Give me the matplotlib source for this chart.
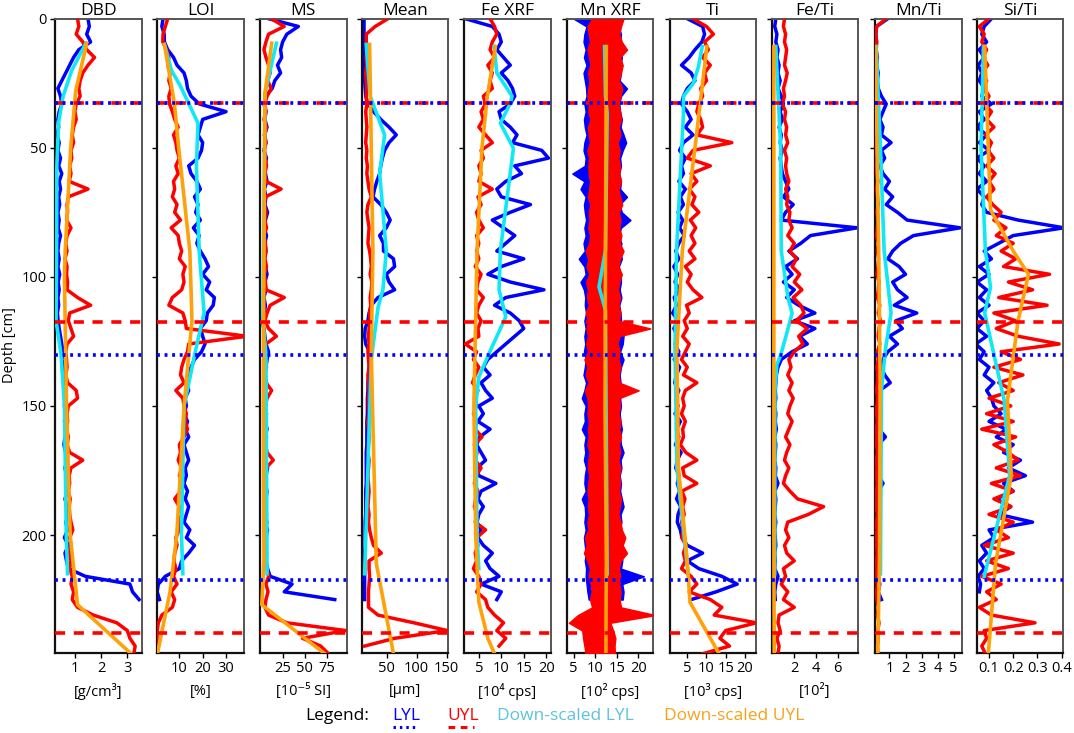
import numpy as np
import matplotlib
matplotlib.use('Agg')
import matplotlib.pyplot as plt
from matplotlib.lines import Line2D

plt.rcParams['font.family'] = ['Open Sans', 'DejaVu Sans']

# depth sampling of the two cores [cm]
d_lyl = np.arange(0, 226, 3)
d_uyl = np.arange(0, 247, 3)
nan = np.nan

# ---------------- DBD [g/cm3]
dbd_lyl = [1.50, 1.55, 1.45, 1.60, 1.15, 0.95, 0.80, 0.65, 0.50, 0.35,
           0.45, 0.50, 0.40, 0.35, 0.38, 0.32, 0.40, 0.35, 0.45, 0.38,
           0.50, 0.40, 0.45, 0.38, 0.42, 0.35, 0.40, 0.36, 0.45, 0.38,
           0.35, 0.40, 0.35, 0.42, 0.36, 0.40, 0.35, 0.38, 0.33, 0.36,
           0.40, 0.45, 0.50, 0.55, 0.50, 0.58, 0.55, 0.60, 0.58, 0.62,
           0.60, 0.65, 0.60, 0.70, 0.62, 0.58, 0.65, 0.70, 0.62, 0.68,
           0.65, 0.72, 0.62, 0.70, 0.78, 0.65, 0.72, 0.60, 0.75, 0.62,
           0.68, 0.75, 1.40, 3.10, 3.20, 3.45]
dbd_uyl = [1.10, 1.15, 1.05, 1.30, 1.45, 1.75, 1.50, 1.30, 1.20, 1.15,
           1.20, 1.05, 1.00, 1.05, 0.95, 0.90, 0.95, 0.85, 0.88, 0.80,
           0.85, 0.78, 1.50, 0.75, 0.70, 0.72, 0.68, 0.85, 0.70, 0.65,
           0.70, 0.62, 0.70, 0.68, 0.72, 0.70, 1.10, 1.60, 0.80, 0.75,
           0.85, 0.95, 0.70, 0.65, 0.68, 0.70, 0.65, 0.72, 1.05, 1.10,
           0.75, 0.70, 0.72, 0.68, 0.75, 0.70, 0.80, 1.30, 0.85, 0.78,
           0.80, 0.75, 0.82, 0.78, 0.80, 0.85, 0.92, 0.80, 0.85, 0.78,
           0.85, 0.80, 0.90, 0.85, 0.95, 0.90, 1.10, 1.70, 2.60, 3.00,
           3.10, 3.30, 3.25]

# ---------------- LOI [%]
loi_lyl = [3.0, 2.5, 3.5, 3.6, 5.0, 7.5, 9.0, 12.0, 13.0, 13.5,
           15.0, 18.5, 30.0, 20.0, 19.0, 18.0, 20.0, 19.5, 18.0, 14.0,
           15.0, 17.5, 19.0, 16.5, 18.0, 17.0, 19.0, 16.0, 18.5, 17.5,
           19.0, 21.0, 22.5, 20.0, 23.0, 21.5, 25.0, 24.5, 22.0, 21.5,
           19.0, 20.0, 21.0, 19.5, 16.5, 15.0, 13.5, 13.0, 14.0, 12.5,
           13.0, 12.0, 13.5, 12.5, 14.0, 12.0, 13.0, 14.0, 12.5, 13.0,
           12.0, 13.5, 12.5, 14.0, 13.0, 12.0, 14.5, 13.0, 16.5, 14.0,
           11.0, 10.0, 4.0, 1.0, 0.5, 1.5]
loi_uyl = [5.0, 4.0, 3.0, 2.9, 4.5, 5.5, 5.0, 6.0, 5.5, 6.5,
           5.5, 5.8, 7.0, 8.0, 9.5, 7.5, 8.5, 9.0, 10.0, 8.5,
           9.5, 7.5, 8.0, 7.0, 9.0, 8.0, 10.5, 6.5, 9.5, 10.0,
           11.0, 10.0, 12.5, 11.5, 12.0, 11.0, 7.0, 5.5, 11.5, 12.5,
           13.0, 39.0, 14.0, 13.5, 12.0, 11.0, 10.5, 12.0, 8.5, 11.5,
           12.0, 13.0, 12.5, 13.5, 12.0, 10.0, 10.5, 9.5, 11.0, 10.0,
           11.5, 10.5, 8.0, 10.0, 11.0, 9.5, 10.0, 8.5, 9.0, 8.0,
           7.7, 8.5, 7.5, 9.0, 6.5, 8.0, 7.0, 2.5, 1.0, 0.5,
           0.4, 0.3, 0.3]

# ---------------- MS [10-5 SI]
ms_lyl = [9.3, 42.7, 29.8, 25.1, 22.8, 24.0, 19.3, 22.8, 16.3, 13.4,
          6.4, 4.1, 6.4, 5.2, 7.6, 4.6, 6.4, 4.1, 7.0, 5.2,
          5.8, 7.6, 4.6, 6.4, 5.2, 8.2, 5.8, 4.6, 7.0, 5.2,
          6.4, 4.6, 5.8, 7.6, 5.2, 6.4, 4.1, 5.8, 4.6, 1.7,
          4.1, 5.2, 6.4, 9.3, 7.6, 6.4, 5.2, 7.0, 5.8, 6.4,
          5.2, 7.0, 5.8, 7.6, 5.2, 6.4, 7.0, 5.8, 8.2, 6.4,
          5.2, 7.6, 6.4, 5.8, 7.0, 5.2, 8.2, 6.4, 5.8, 7.0,
          6.4, 8.2, 11.1, 35.7, 26.9, 83.6]
ms_uyl = [12.3, 26.9, 9.3, 6.4, 4.1, 6.4, 9.3, 11.1, 8.2, 12.3,
          7.6, 5.2, 6.4, 4.1, 7.0, 5.2, 6.4, 4.6, 5.8, 7.0,
          5.2, 6.4, 23.4, 5.8, 4.6, 6.4, 5.2, 7.0, 4.1, 5.8,
          6.4, 5.2, 7.0, 4.6, 5.8, 6.4, 26.9, 11.1, 7.6, 5.2,
          9.3, 18.1, 6.4, 5.2, 5.8, 7.0, 4.6, 6.4, 12.8, 7.6,
          5.8, 4.6, 6.4, 5.2, 7.0, 5.8, 7.6, 14.6, 6.4, 5.2,
          5.8, 7.0, 4.6, 6.4, 5.2, 7.6, 5.8, 7.0, 5.2, 6.4,
          5.8, 7.6, 9.3, 6.4, 8.7, 6.4, 5.2, 9.3, 29.8, 96.0,
          47.4, 67.8, 76.6]

# ---------------- Mean grain size [um]
mean_lyl = [12.2, 12.2, 12.2, 13.2, 13.2, 13.2, 12.2, 13.2, 13.2, 14.1,
            15.0, 18.7, 28.0, 40.0, 53.9, 65.9, 53.9, 46.5, 42.8, 40.0,
            38.2, 33.5, 29.8, 27.0, 40.0, 49.3, 55.8, 49.3, 38.2, 44.6,
            44.6, 61.3, 63.2, 49.3, 53.9, 63.2, 35.4, 24.3, 20.6, 18.7,
            14.1, 13.2, 15.0, 21.5, 22.4, 20.6, 19.6, 18.7, 18.7, 17.8,
            17.8, 17.8, 16.9, 16.9, 16.9, 16.9, 15.9, 15.9, 15.9, 15.9,
            15.9, 15.0, 15.0, 15.0, 15.0, 14.1, 14.1, 14.1, 14.1, 13.2,
            13.2, 13.2, 13.2, 13.2, 13.2, 13.2]
mean_uyl = [52.0, 30.8, 15.9, 15.9, 16.9, 15.9, 16.9, 15.0, 15.9, 16.9,
            15.9, 16.9, 15.0, 15.9, 16.9, 15.9, 15.0, 16.9, 15.9, 17.8,
            16.9, 18.7, 20.6, 24.3, 18.7, 16.9, 18.7, 20.6, 19.6, 18.7,
            21.5, 23.3, 24.3, 22.4, 25.2, 24.3, 22.4, 23.3, 21.5, 22.4,
            20.6, 19.6, 20.6, 18.7, 19.6, 20.6, 18.7, 19.6, 20.6, 19.6,
            19.6, 20.6, 18.7, 19.6, 20.6, 19.6, 18.7, 20.6, 19.6, 18.7,
            19.6, 20.6, 19.6, 18.7, 20.6, 19.6, 21.5, 24.3, 28.0, 41.0,
            20.6, 20.6, 21.5, 20.6, 19.6, 19.6, 19.6, 35.4, 95.6, 151.0,
            63.2, 13.2, nan]

# ---------------- Fe XRF [10^4 cps]
fe_lyl = [2.0, 8.0, 9.5, 10.0, 9.0, 10.5, 12.0, 10.0, 11.5, 12.5,
          13.0, 12.0, 9.5, 10.0, 12.0, 13.5, 12.5, 19.0, 20.5, 13.0,
          14.5, 11.0, 9.0, 10.0, 16.5, 12.0, 8.0, 10.5, 13.0, 11.0,
          9.0, 15.0, 10.0, 7.0, 12.0, 19.5, 11.0, 8.5, 12.0, 14.0,
          15.0, 13.0, 11.0, 9.0, 7.0, 6.0, 7.5, 5.5, 6.5, 8.0,
          5.0, 6.0, 4.8, 7.5, 5.2, 4.5, 5.5, 6.5, 4.6, 5.0,
          8.8, 5.5, 4.8, 6.0, 5.0, 4.6, 5.5, 4.8, 6.0, 8.0,
          6.5, 7.5, 9.5, 5.5, 10.0, 9.0]
fe_uyl = [7.5, 8.5, 9.0, 8.0, 7.5, 8.5, 7.0, 8.0, 7.5, 8.0,
          6.0, 6.5, 5.5, 6.0, 5.0, 6.5, 8.0, 5.5, 6.0, 5.0,
          5.5, 5.0, 8.0, 4.8, 5.5, 4.5, 5.0, 6.0, 4.5, 5.0,
          4.5, 5.0, 4.2, 5.5, 4.8, 4.5, 6.0, 5.0, 4.5, 5.5,
          4.8, 5.0, 2.0, 4.5, 3.8, 5.0, 4.2, 3.6, 4.8, 4.0,
          4.5, 3.8, 4.5, 4.2, 5.7, 4.0, 4.6, 4.2, 5.5, 4.4,
          4.0, 4.8, 4.3, 4.0, 4.6, 4.2, 6.5, 4.5, 4.8, 4.2,
          4.5, 3.8, 5.0, 5.5, 4.5, 6.5, 7.0, 8.5, 10.5, 9.0,
          11.0, 9.5, nan]

# ---------------- Mn XRF [10^2 cps], band of the scan (low / high)
mn_lyl_lo = [5.0, 8.0, 7.5, 7.3, 7.8, 7.4, 8.0, 7.3, 7.6, 7.9,
             8.0, 7.5, 7.8, 7.4, 7.6, 8.0, 7.5, 7.3, 7.8, 7.6,
             4.7, 7.5, 6.6, 7.8, 7.4, 7.6, 7.9, 7.5, 7.8, 7.3,
             7.6, 6.2, 7.5, 7.8, 6.6, 7.4, 7.7, 7.6, 7.9, 7.5,
             7.8, 7.5, 7.7, 7.4, 7.8, 7.6, 7.3, 7.9, 7.5, 6.9,
             7.8, 7.5, 7.6, 6.9, 7.8, 7.5, 7.7, 7.4, 7.9, 7.6,
             7.5, 7.8, 6.9, 7.6, 7.7, 7.5, 7.8, 7.4, 7.6, 7.8,
             7.6, 7.9, 7.8, 8.0, 8.2, 8.5]
mn_lyl_hi = [9.6, 15.5, 16.0, 15.8, 15.6, 16.2, 15.9, 16.0, 15.7, 17.4,
             16.0, 15.6, 15.8, 16.2, 15.9, 16.6, 17.2, 16.4, 15.8, 16.0,
             15.6, 16.0, 15.8, 17.4, 15.7, 16.2, 18.2, 16.0, 15.5, 16.1,
             15.8, 16.2, 15.5, 15.9, 16.0, 15.7, 16.1, 15.6, 15.9, 16.0,
             16.2, 16.6, 16.4, 15.8, 16.6, 16.0, 15.7, 15.9, 16.1, 15.8,
             16.0, 15.7, 15.9, 16.2, 15.8, 16.0, 16.6, 15.9, 16.1, 15.7,
             16.0, 15.8, 16.2, 16.6, 15.9, 16.1, 15.7, 16.0, 15.8, 16.2,
             16.3, 16.0, 21.3, 16.3, 16.6, 16.4]
mn_uyl_lo = [9.3, 8.2, 8.5, 8.8, 8.2, 8.6, 8.9, 8.3, 8.7, 8.4,
             8.2, 8.6, 8.4, 8.9, 8.3, 8.5, 8.8, 8.2, 8.6, 8.4,
             8.5, 8.8, 8.6, 8.3, 8.9, 8.5, 8.7, 8.4, 8.8, 8.6,
             7.8, 8.4, 8.0, 8.6, 7.9, 8.3, 8.1, 8.5, 7.8, 8.4,
             8.0, 8.3, 7.9, 8.4, 7.5, 8.2, 7.8, 8.5, 7.6, 8.2,
             8.4, 8.2, 8.6, 8.3, 8.5, 8.2, 8.7, 8.4, 8.3, 8.6,
             8.4, 8.2, 8.5, 8.3, 8.6, 8.2, 8.4, 7.6, 8.0, 7.4,
             8.2, 8.8, 8.5, 9.0, 9.2, 8.8, 9.3, 6.0, 3.9, 7.0,
             7.2, 7.5, 7.8]
mn_uyl_hi = [16.6, 16.0, 15.6, 16.2, 17.4, 15.8, 16.4, 16.0, 15.5, 16.3,
             15.9, 15.4, 15.8, 16.0, 15.5, 15.9, 15.2, 15.7, 15.4, 15.8,
             15.6, 16.0, 15.4, 15.8, 16.3, 15.5, 15.9, 15.6, 16.1, 15.7,
             16.6, 15.8, 15.4, 16.2, 15.6, 15.3, 15.8, 15.4, 15.9, 15.5,
             22.8, 15.6, 15.2, 15.7, 15.4, 15.9, 15.5, 15.7, 20.1, 15.6,
             15.8, 15.4, 15.9, 15.6, 16.0, 15.5, 15.8, 15.4, 15.9, 15.6,
             15.8, 15.5, 16.0, 15.7, 15.4, 15.9, 16.2, 17.0, 16.4, 17.4,
             15.9, 15.5, 15.8, 15.6, 15.9, 15.7, 16.0, 24.0, 13.5, 14.2,
             14.7, 14.5, 14.6]

# ---------------- Ti [10^3 cps]
ti_lyl = [5.0, 9.0, 9.5, 8.8, 7.0, 5.5, 3.5, 6.0, 7.0, 5.0,
          4.0, 3.5, 5.0, 6.0, 4.5, 6.5, 4.0, 3.0, 4.5, 3.5,
          4.0, 2.8, 4.5, 3.2, 4.0, 2.6, 3.8, 3.0, 4.2, 2.8,
          2.0, 2.8, 1.5, 2.5, 1.8, 3.0, 1.6, 2.2, 1.2, 2.6,
          1.5, 2.4, 1.8, 2.8, 1.6, 3.0, 2.2, 1.7, 2.8, 2.0,
          2.6, 1.8, 3.2, 2.2, 2.8, 1.9, 3.4, 2.4, 2.0, 2.9,
          2.4, 3.0, 2.2, 3.3, 2.6, 2.4, 3.2, 3.6, 5.0, 9.0,
          5.0, 8.0, 14.0, 18.0, 12.5, 6.0]
ti_uyl = [6.5, 10.0, 11.8, 9.5, 10.5, 9.0, 11.0, 9.5, 10.0, 8.5,
          9.0, 8.0, 7.5, 8.5, 9.0, 7.5, 16.6, 6.5, 5.0, 11.0,
          6.0, 7.5, 5.5, 7.0, 6.2, 8.0, 5.8, 7.2, 6.0, 7.0,
          5.5, 7.0, 4.5, 6.0, 5.0, 6.5, 8.8, 4.8, 5.5, 4.2,
          5.0, 3.8, 5.5, 4.5, 3.5, 5.0, 4.0, 7.5, 4.5, 3.8,
          4.2, 3.5, 4.5, 3.8, 4.0, 3.2, 4.6, 7.5, 3.8, 4.2,
          7.5, 3.6, 4.4, 3.8, 4.2, 3.5, 4.0, 3.6, 4.6, 4.0,
          4.5, 3.5, 6.0, 7.5, 5.5, 11.0, 14.0, 12.0, 23.0, 15.0,
          13.5, 16.0, 9.0]

# ---------------- Fe/Ti [10^2]
feti_lyl = [0.3, 0.2, 0.4, 0.3, 0.5, 0.4, 0.6, 0.5, 0.7, 0.5,
            0.8, 1.0, 0.7, 0.9, 0.6, 0.8, 0.7, 0.9, 0.7, 0.8,
            0.9, 1.2, 1.5, 1.0, 1.9, 1.2, 0.8, 7.8, 3.5, 2.6,
            1.5, 2.3, 1.2, 1.8, 1.0, 2.0, 1.3, 2.4, 3.9, 2.0,
            3.9, 2.5, 3.2, 1.8, 0.8, 0.5, 0.35, 0.3, 0.25, 0.3,
            0.2, 0.3, 0.25, 0.35, 0.2, 0.3, 0.25, 0.2, 0.3, 0.25,
            0.5, 0.2, 0.3, 0.25, 0.2, 0.3, 0.2, 0.25, 0.3, 0.2,
            0.25, 0.2, 0.5, 0.3, 0.2, 0.25]
feti_uyl = [1.1, 1.0, 1.2, 1.1, 1.3, 1.2, 1.1, 1.35, 1.2, 1.0,
            1.1, 0.9, 1.2, 1.1, 1.3, 1.2, 1.4, 1.1, 1.3, 1.2,
            1.3, 1.5, 1.2, 1.4, 1.3, 1.6, 1.5, 1.8, 1.4, 2.0,
            1.6, 2.2, 1.8, 2.5, 2.0, 2.7, 1.9, 2.6, 2.9, 2.2,
            3.2, 2.4, 2.8, 2.0, 1.5, 1.7, 1.4, 1.8, 1.5, 1.9,
            1.6, 1.4, 1.8, 1.5, 1.2, 1.6, 1.3, 1.1, 1.5, 1.2,
            1.0, 1.6, 2.3, 4.7, 3.3, 1.4, 1.2, 1.5, 1.1, 1.3,
            2.0, 1.0, 1.2, 0.8, 1.4, 1.0, 2.0, 0.6, 0.5, 0.7,
            0.4, 0.6, 0.5]

# ---------------- Mn/Ti
mnti_lyl = [0.9, 0.2, 0.15, 0.2, 0.15, 0.25, 0.2, 0.3, 0.25, 0.3,
            0.5, 0.8, 0.6, 0.4, 0.6, 0.5, 1.1, 0.5, 0.7, 0.4,
            0.6, 1.0, 0.7, 1.2, 0.8, 1.5, 2.1, 5.4, 2.5, 1.7,
            1.2, 0.9, 1.6, 2.0, 1.2, 1.5, 2.1, 1.3, 2.7, 1.4,
            1.8, 1.0, 1.5, 0.9, 0.6, 0.5, 0.7, 1.05, 0.4, 0.45,
            0.3, 0.4, 0.25, 0.35, 0.75, 0.3, 0.4, 0.25, 0.35, 0.3,
            0.6, 0.3, 0.25, 0.4, 0.3, 0.35, 0.25, 0.3, 0.4, 0.3,
            0.25, 0.35, 0.3, 0.4, 0.3, 0.5]
mnti_uyl = [0.8, 0.2, 0.15, 0.2, 0.18, 0.22, 0.15, 0.2, 0.25, 0.18,
            0.2, 0.25, 0.18, 0.22, 0.2, 0.28, 0.22, 0.18, 0.25, 0.2,
            0.22, 0.28, 0.2, 0.25, 0.3, 0.22, 0.28, 0.25, 0.2, 0.3,
            0.25, 0.32, 0.28, 0.22, 0.35, 0.3, 0.25, 0.4, 0.3, 0.45,
            0.35, 0.3, 0.4, 0.25, 0.3, 0.22, 0.28, 0.25, 0.2, 0.26,
            0.22, 0.2, 0.25, 0.18, 0.22, 0.2, 0.25, 0.18, 0.22, 0.2,
            0.24, 0.2, 0.22, 0.18, 0.25, 0.2, 0.22, 0.18, 0.2, 0.24,
            0.2, 0.22, 0.18, 0.25, 0.2, 0.22, 0.3, 0.25, 0.35, 0.28,
            0.3, 0.25, 0.28]

# ---------------- Si/Ti
siti_lyl = [0.11, 0.08, 0.07, 0.09, 0.06, 0.08, 0.055, 0.07, 0.06, 0.08,
            0.07, 0.11, 0.06, 0.08, 0.05, 0.09, 0.06, 0.1, 0.05, 0.08,
            0.06, 0.09, 0.05, 0.08, 0.07, 0.09, 0.22, 0.41, 0.2, 0.14,
            0.08, 0.11, 0.06, 0.1, 0.05, 0.09, 0.06, 0.1, 0.05, 0.08,
            0.05, 0.09, 0.045, 0.08, 0.06, 0.1, 0.08, 0.12, 0.09, 0.11,
            0.12, 0.15, 0.1, 0.17, 0.13, 0.2, 0.16, 0.23, 0.18, 0.25,
            0.16, 0.2, 0.13, 0.19, 0.14, 0.28, 0.1, 0.12, 0.07, 0.09,
            0.06, 0.08, 0.055, 0.065, 0.06, nan]
siti_uyl = [0.1, 0.06, 0.08, 0.07, 0.09, 0.075, 0.095, 0.07, 0.09, 0.08,
            0.1, 0.08, 0.11, 0.09, 0.12, 0.085, 0.11, 0.095, 0.12, 0.09,
            0.125, 0.1, 0.12, 0.09, 0.115, 0.15, 0.12, 0.17, 0.13, 0.2,
            0.15, 0.21, 0.16, 0.35, 0.18, 0.28, 0.14, 0.34, 0.12, 0.21,
            0.13, 0.22, 0.39, 0.15, 0.23, 0.12, 0.24, 0.14, 0.2, 0.1,
            0.19, 0.09, 0.2, 0.07, 0.21, 0.12, 0.18, 0.22, 0.13, 0.23,
            0.11, 0.2, 0.12, 0.19, 0.1, 0.2, 0.13, 0.18, 0.08, 0.2,
            0.09, 0.18, 0.07, 0.15, 0.09, 0.13, 0.06, 0.11, 0.29, 0.08,
            0.09, 0.07, 0.085]

# ---------------- down-scaled profiles (depth, value)
ds_lyl = {
    'DBD': ([9.5, 20, 30, 40, 57, 90, 117, 130, 150, 200, 215],
            [1.42, 0.88, 0.55, 0.38, 0.31, 0.30, 0.28, 0.47, 0.60, 0.67, 0.72]),
    'LOI': ([10, 20, 26, 31.5, 40.5, 57, 90, 114, 127, 150, 200, 215],
            [3.6, 6.6, 10.4, 13.3, 18, 17.3, 18.5, 20.6, 17.3, 12, 10.9, 11.5]),
    'MS': ([9.5, 29, 60, 117, 130, 215], [18.1, 5.2, 4.6, 2.9, 6.4, 7.6]),
    'Mean': ([10, 30, 45, 60, 72, 90, 105, 112, 132, 215],
             [15.9, 22.4, 46.5, 38.2, 42.8, 49.3, 43.7, 35.4, 24.3, 13.2]),
    'Fe XRF': ([10.8, 21, 30, 32.8, 40.5, 50.2, 89.7, 105, 115.5, 128.4, 138.8, 150, 200, 213],
               [8.4, 9, 12.4, 12, 9.8, 12.7, 9.8, 9.5, 11, 7.6, 5, 4.3, 4.6, 5]),
    'Mn XRF': ([10.8, 30, 36.6, 89.7, 103.9, 112.9, 215],
               [12.2, 12.4, 12.8, 12.4, 10.9, 12.4, 12.8]),
    'Ti': ([10.8, 18.6, 25, 30, 37, 90, 128, 174, 215],
           [8.9, 7.9, 6.6, 4.0, 4.0, 2.2, 1.8, 2.3, 5.2]),
    'Fe/Ti': ([10.8, 50, 90, 108, 114, 122, 130, 134, 144, 215],
              [0.3, 0.75, 0.8, 1.42, 1.8, 1.3, 0.77, 0.4, 0.22, 0.2]),
    'Mn/Ti': ([10.8, 50, 90, 114, 128, 144, 215],
              [0.17, 0.44, 0.67, 1.1, 0.75, 0.5, 0.44]),
    'Si/Ti': ([10.8, 50, 90, 104, 114, 148, 177, 216],
              [0.077, 0.067, 0.085, 0.106, 0.082, 0.163, 0.185, 0.08]),
}
ds_uyl = {
    'DBD': ([9.5, 28, 50, 90, 100, 150, 200, 227, 246],
            [1.45, 1.03, 0.84, 0.63, 0.60, 0.68, 0.82, 1.10, 3.15]),
    'LOI': ([10, 33, 50, 90, 117, 150, 200, 222, 246],
            [3.6, 7.9, 9.7, 14.5, 15.4, 12, 8.9, 6, 0.6]),
    'MS': ([9.5, 29, 90, 150, 210, 227, 246], [12.8, 5.2, 4.1, 3.5, 4.1, 1.7, 72.5]),
    'Mean': ([10, 90, 130, 211, 246], [21.5, 27.0, 24.3, 32.6, 61.3]),
    'Fe XRF': ([10.8, 30, 50, 90, 150, 200, 226, 240, 246],
               [8.7, 6.9, 5.7, 4.6, 3.9, 4.3, 5.0, 7.0, 8.5]),
    'Mn XRF': ([10.8, 90, 150, 210, 246], [12.6, 12.4, 12.3, 12.6, 12.5]),
    'Ti': ([10.8, 50, 90, 128, 174, 210, 226, 246],
           [10.1, 7.0, 3.7, 2.3, 2.7, 5.0, 5.7, 13.3]),
    'Fe/Ti': ([10.8, 100, 200, 246], [0.12, 0.12, 0.12, 0.15]),
    'Mn/Ti': ([10.8, 90, 140, 210, 246], [0.13, 0.33, 0.42, 0.38, 0.27]),
    'Si/Ti': ([10.8, 74, 90, 99, 117, 148, 177, 211, 246],
              [0.082, 0.106, 0.2, 0.263, 0.22, 0.176, 0.192, 0.127, 0.097]),
}

# unit boundaries [cm]
lyl_bounds = [32.7, 130.3, 217.6]
uyl_bounds = [32.7, 117.3, 238.1]

names = ['DBD', 'LOI', 'MS', 'Mean', 'Fe XRF', 'Mn XRF', 'Ti', 'Fe/Ti', 'Mn/Ti', 'Si/Ti']
units = ['[g/cm³]', '[%]', '[10⁻⁵ SI]', '[µm]', '[10⁴ cps]', '[10² cps]',
         '[10³ cps]', '[10²]', '', '']
lyl_series = [dbd_lyl, loi_lyl, ms_lyl, mean_lyl, fe_lyl, None, ti_lyl,
              feti_lyl, mnti_lyl, siti_lyl]
uyl_series = [dbd_uyl, loi_uyl, ms_uyl, mean_uyl, fe_uyl, None, ti_uyl,
              feti_uyl, mnti_uyl, siti_uyl]
xlims = [(0.24, 3.55), (0.55, 37.7), (-0.3, 97), (8.3, 152.7), (1.7, 21.0),
         (3.4, 23.5), (0.5, 22.9), (-0.08, 7.9), (0.1, 5.5), (0.049, 0.407)]
xticks = [[1, 2, 3], [10, 20, 30], [25, 50, 75], [50, 100, 150], [5, 10, 15, 20],
          [5, 10, 15, 20], [5, 10, 15, 20], [2, 4, 6], [1, 2, 3, 4, 5],
          [0.1, 0.2, 0.3, 0.4]]

# layout (pixels of a 1074 x 733 canvas)
W, H = 1074, 733
lefts = [55, 157.3, 260, 361.7, 464, 566.7, 670, 771.7, 875, 976.7]
widths = [86.7, 86.7, 86.7, 86.6, 86.7, 86.6, 86, 86.6, 86.7, 86.6]
top_px, bot_px = 18.7, 652.5

BLUE = '#0000ff'
RED = '#ff0000'
CYAN = '#10e8f5'
ORANGE = '#ffa10a'

fig = plt.figure(figsize=(W / 100, H / 100), dpi=100)

for i, name in enumerate(names):
    ax = fig.add_axes([lefts[i] / W, 1 - bot_px / H, widths[i] / W, (bot_px - top_px) / H])

    if name == 'Mn XRF':
        ax.fill_betweenx(d_lyl, mn_lyl_lo, mn_lyl_hi, color=BLUE, lw=1.0, zorder=2)
        ax.fill_betweenx(d_uyl, mn_uyl_lo, mn_uyl_hi, color=RED, lw=1.0, zorder=3)
    else:
        ax.plot(lyl_series[i], d_lyl, color=BLUE, lw=2.5, zorder=2)
        ax.plot(uyl_series[i], d_uyl, color=RED, lw=2.5, zorder=3)

    dd, vv = ds_lyl[name]
    ax.plot(vv, dd, color=CYAN, lw=2.6, zorder=4)
    dd, vv = ds_uyl[name]
    ax.plot(vv, dd, color=ORANGE, lw=2.6, zorder=5)

    for b in uyl_bounds:
        ax.axhline(b, color=RED, lw=2.6, ls=(0, (2.8, 2.4)), zorder=6)
    for b in lyl_bounds:
        ax.axhline(b, color=BLUE, lw=2.6, ls=(0, (0.8, 1.3)), zorder=7)

    ax.set_xlim(*xlims[i])
    ax.set_ylim(245.5, 0)
    ax.set_xticks(xticks[i])
    if name == 'Si/Ti':
        ax.set_xticklabels(['0.1', '0.2', '0.3', '0.4'])
    ax.set_yticks([0, 50, 100, 150, 200])
    if i > 0:
        ax.set_yticklabels([])
    ax.tick_params(direction='out', length=3.5, width=1.0, labelsize=10.5, pad=2.5)
    for side in ['left', 'bottom']:
        ax.spines[side].set_linewidth(1.6)
        ax.spines[side].set_color('#111111')
    for side in ['right', 'top']:
        ax.spines[side].set_linewidth(1.4)
        ax.spines[side].set_color('#555555')
    ax.set_title(name, fontsize=12.5, pad=1.5)

    if units[i]:
        fig.text((lefts[i] + widths[i] / 2) / W, 1 - 691 / H, units[i],
                 ha='center', va='center', fontsize=10.5)

fig.text(10 / W, 1 - 345 / H, 'Depth [cm]', rotation=90, ha='center', va='center',
         fontsize=10.5)

# legend row
ly = 1 - 716 / H
fig.text(304.8 / W, ly, 'Legend:', ha='left', va='center', fontsize=12.5)
fig.text(392.6 / W, ly, 'LYL', ha='left', va='center', fontsize=12.5, color=BLUE)
fig.text(447.7 / W, ly, 'UYL', ha='left', va='center', fontsize=12.5, color=RED)
fig.text(497 / W, ly, 'Down-scaled LYL', ha='left', va='center', fontsize=12.5,
         color='#5bc3dd')
fig.text(664.3 / W, ly, 'Down-scaled UYL', ha='left', va='center', fontsize=12.5,
         color='#f7a11a')
uy = 1 - 727 / H
fig.add_artist(Line2D([392.6 / W, 418.4 / W], [uy, uy], color=BLUE, lw=2.2,
                      ls=(0, (0.8, 1.3))))
fig.add_artist(Line2D([447.7 / W, 474 / W], [uy, uy], color=RED, lw=2.2,
                      ls=(0, (2.2, 1.8))))

fig.savefig('out.png', dpi=100)
